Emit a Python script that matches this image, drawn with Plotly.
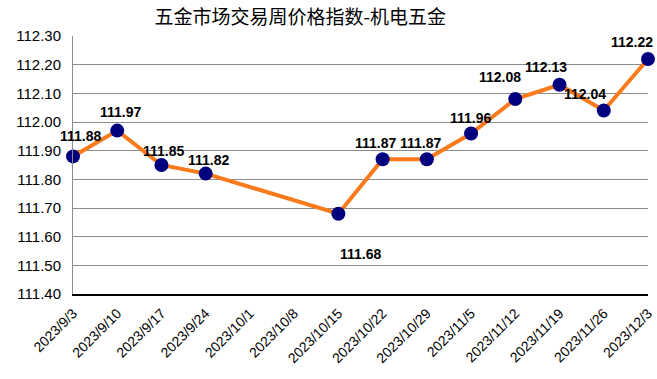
import plotly.graph_objects as go

categories = ["2023/9/3", "2023/9/10", "2023/9/17", "2023/9/24", "2023/10/1", "2023/10/8",
              "2023/10/15", "2023/10/22", "2023/10/29", "2023/11/5", "2023/11/12",
              "2023/11/19", "2023/11/26", "2023/12/3"]
values = [111.88, 111.97, 111.85, 111.82, None, None, 111.68, 111.87, 111.87, 111.96,
          112.08, 112.13, 112.04, 112.22]
y_ticks = [111.40, 111.50, 111.60, 111.70, 111.80, 111.90, 112.00, 112.10, 112.20, 112.30]
title_text = "五金市场交易周价格指数-机电五金"

# label offsets (pixels) for data labels
label_shift = [(7, 20), (3, 19), (2, 14), (3, 14), None, None, (22, -40),
               (-7, 16), (-6, 16), (-1, 15), (-15, 22), (-14, 18), (-19, 17), (-16, 17)]

fig = go.Figure()
fig.add_trace(go.Scatter(
    x=categories, y=values, mode="lines+markers", connectgaps=True,
    line=dict(color="#FA7A1C", width=4),
    marker=dict(color="#00007F", size=14),
    cliponaxis=False, showlegend=False, hoverinfo="skip",
))

for c, v, s in zip(categories, values, label_shift):
    if v is None:
        continue
    fig.add_annotation(x=c, y=v, text=f"{v:.2f}", showarrow=False,
                       xshift=s[0], yshift=s[1],
                       font=dict(family="Arial, Liberation Sans", size=14, color="#000000", weight="bold"))

fig.update_layout(
    width=657, height=379,
    margin=dict(l=73, r=9, t=36, b=85),
    paper_bgcolor="white", plot_bgcolor="white",
    title=dict(text=title_text, x=0.457, xanchor="center", y=0.955, yanchor="middle",
               font=dict(family="Noto Sans CJK SC", size=19, color="#000000")),
)
fig.update_xaxes(
    type="category", categoryorder="array", categoryarray=categories,
    range=[0, len(categories) - 1], automargin=False,
    tickangle=-45, tickfont=dict(family="Arial, Liberation Sans", size=14, color="#000000"),
    showgrid=False, showline=True, linecolor="#000000", linewidth=1.5, ticks="",
    ticklabelstandoff=4,
)
fig.update_yaxes(
    range=[111.40, 112.30], tickvals=y_ticks, ticktext=[f"{t:.2f}" for t in y_ticks],
    tickfont=dict(family="Arial, Liberation Sans", size=15, color="#000000"),
    showgrid=True, gridcolor="#8C8C8C", gridwidth=1, automargin=False,
    showline=True, linecolor="#8C8C8C", linewidth=1, ticks="", zeroline=False,
    ticklabelstandoff=8,
)

fig.write_html("out.html", config={"displayModeBar": False},
               post_script="document.body.style.margin='0';document.body.style.padding='0';document.body.style.overflow='hidden';")
